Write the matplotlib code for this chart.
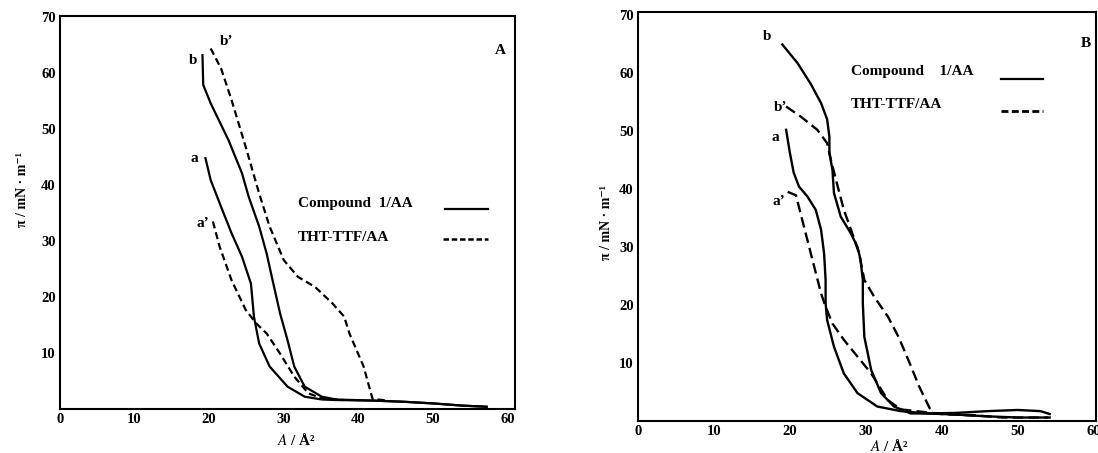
import matplotlib
matplotlib.use("Agg")
import matplotlib.pyplot as plt

plt.rcParams['font.family'] = ['Liberation Serif', 'DejaVu Serif']
plt.rcParams['mathtext.fontset'] = 'stix'

# ---- panel A : pi-A isotherms ----
a_x = [19.5, 20.2, 21.6, 23.0, 24.4, 25.6, 26.0, 26.7, 28.1, 30.5, 32.8, 35.1,
       37.0, 42.0, 46.0, 50.0, 54.0, 57.2]
a_y = [44.8, 40.9, 36.1, 31.4, 27.2, 22.4, 16.5, 11.7, 7.6, 4.0, 2.2, 1.7,
       1.6, 1.5, 1.3, 1.0, 0.6, 0.4]
b_x = [19.1, 19.2, 20.2, 22.6, 24.4, 25.3, 26.7, 27.7, 28.6, 29.5, 30.5, 31.4,
       32.8, 35.1, 37.0, 42.0, 46.0, 50.0, 54.0, 57.2]
b_y = [63.2, 57.9, 54.6, 48.0, 42.1, 37.9, 32.6, 27.8, 22.4, 17.1, 12.3, 7.6,
       4.0, 2.2, 1.7, 1.5, 1.3, 1.0, 0.6, 0.4]
a2_x = [20.5, 21.4, 23.0, 24.9, 26.3, 27.7, 29.5, 31.4, 33.3, 35.1, 38.0]
a2_y = [33.5, 29.0, 23.0, 17.7, 15.3, 13.5, 9.9, 5.8, 2.8, 1.9, 1.6]
b2_x = [20.2, 21.6, 23.0, 24.9, 26.7, 28.1, 30.0, 31.9, 34.2, 36.5, 38.1, 38.8,
        40.7, 41.9, 44.0]
b2_y = [64.4, 60.8, 55.2, 46.8, 38.5, 32.6, 26.6, 23.6, 21.8, 18.9, 16.5, 13.5,
        7.6, 1.8, 1.5]

# ---- panel B ----
Ba_x = [19.5, 20.0, 20.5, 21.2, 22.3, 23.4, 24.1, 24.5, 24.7, 24.7, 24.9, 25.8,
        27.1, 28.9, 31.5, 34.6, 38.0, 42.0, 46.0, 50.0, 54.2]
Ba_y = [50.2, 46.2, 42.8, 40.4, 38.7, 36.4, 33.0, 28.9, 24.3, 20.3, 17.4, 12.8,
        8.2, 4.8, 2.5, 1.7, 1.3, 1.1, 0.8, 0.6, 0.6]
Bb_x = [19.0, 21.0, 22.7, 24.1, 24.9, 25.2, 25.2, 25.6, 25.8, 26.7, 28.0, 28.9,
        29.3, 29.6, 29.6, 29.8, 30.7, 32.0, 33.7, 35.9, 38.0, 42.0, 46.0, 50.0,
        53.0, 54.2]
Bb_y = [64.9, 61.7, 58.2, 54.8, 52.0, 49.0, 46.2, 43.3, 39.3, 35.2, 32.4, 30.0,
        27.8, 24.3, 20.3, 14.5, 8.8, 4.8, 2.5, 1.3, 1.3, 1.4, 1.7, 1.9, 1.7, 1.2]
Ba2_x = [19.7, 20.8, 21.4, 22.3, 23.2, 24.1, 24.7, 25.6, 27.1, 28.9, 30.7, 31.8,
         32.9, 34.6, 40.0, 45.0]
Ba2_y = [39.5, 38.9, 35.8, 31.2, 26.6, 22.0, 19.7, 16.8, 14.0, 11.1, 8.2, 5.9,
         3.6, 2.0, 1.2, 0.9]
Bb2_x = [19.5, 21.4, 23.6, 24.9, 25.4, 26.3, 27.1, 28.2, 29.1, 29.8, 31.1, 32.9,
         34.3, 35.7, 37.0, 38.4, 39.1, 44.0, 48.0, 54.0]
Bb2_y = [54.2, 52.5, 50.2, 47.9, 45.0, 40.4, 36.4, 32.4, 28.9, 24.3, 21.4, 18.0,
         14.5, 10.2, 6.0, 2.2, 1.3, 1.0, 0.6, 0.6]

xticks = [0, 10, 20, 30, 40, 50, 60]
yticks = [10, 20, 30, 40, 50, 60, 70]
legend_names = ['Compound 1/AA', 'THT-TTF/AA']

W, H = 1098, 453
fig = plt.figure(figsize=(W / 100, H / 100), dpi=100)

def make_axes(l, r, t, b):
    return fig.add_axes([l / W, 1 - b / H, (r - l) / W, (b - t) / H])

tick_font = dict(family=['Liberation Serif', 'DejaVu Serif'], weight='bold', size=10.5)

def style(ax, xmax, ymax):
    ax.set_xlim(0, xmax)
    ax.set_ylim(0, ymax)
    ax.set_xticks(xticks)
    ax.set_yticks(yticks)
    ax.set_xticklabels([str(t) for t in xticks], **tick_font)
    ax.set_yticklabels([str(t) for t in yticks], **tick_font)
    ax.tick_params(length=0, pad=3)
    for s in ax.spines.values():
        s.set_linewidth(1.5)

lab = dict(weight='bold', size=11)

# ----- A -----
axA = make_axes(60, 515, 16, 409)
style(axA, 61, 70.2)
dA = (3.2, 1.8)
axA.plot(a_x, a_y, color='black', lw=1.6)
axA.plot(b_x, b_y, color='black', lw=1.6)
axA.plot(a2_x, a2_y, color='black', lw=1.6, dashes=dA)
axA.plot(b2_x, b2_y, color='black', lw=1.6, dashes=dA)
axA.text(17.9, 62.3, 'b', ha='center', va='center', **lab)
axA.text(22.3, 65.6, 'b’', ha='center', va='center', **lab)
axA.text(18.0, 44.8, 'a', ha='center', va='center', **lab)
axA.text(19.1, 33.2, 'a’', ha='center', va='center', **lab)
axA.text(59.1, 64.1, 'A', ha='center', va='center', weight='bold', size=11)
axA.text(31.9, 36.7, 'Compound  1/AA', ha='left', va='center', **lab)
axA.text(31.9, 30.7, legend_names[1], ha='left', va='center', **lab)
axA.plot([51.6, 57.4], [35.8, 35.8], color='black', lw=1.6)
axA.plot([51.4, 57.4], [30.4, 30.4], color='black', lw=1.8, dashes=(2.2, 1.1))
fig.text(23 / W, 1 - 190 / H, 'π / mN · m⁻¹', rotation=90, ha='center',
         va='center', weight='bold', size=10)
fig.text(297 / W, 1 - 440 / H, r'$\mathit{A}$ / Å²', ha='center', va='center',
         weight='bold', size=11)

# ----- B -----
axB = make_axes(638, 1096, 12, 421)
style(axB, 60.3, 70.5)
dB = (4.5, 2.2)
axB.plot(Ba_x, Ba_y, color='black', lw=1.7)
axB.plot(Bb_x, Bb_y, color='black', lw=1.7)
axB.plot(Ba2_x, Ba2_y, color='black', lw=1.7, dashes=dB)
axB.plot(Bb2_x, Bb2_y, color='black', lw=1.7, dashes=dB)
axB.text(17.0, 66.3, 'b', ha='center', va='center', **lab)
axB.text(18.8, 54.0, 'b’', ha='center', va='center', **lab)
axB.text(18.1, 48.8, 'a', ha='center', va='center', **lab)
axB.text(18.6, 37.8, 'a’', ha='center', va='center', **lab)
axB.text(58.9, 65.1, 'B', ha='center', va='center', weight='bold', size=11)
axB.text(28.0, 60.2, 'Compound    1/AA', ha='left', va='center', **lab)
axB.text(28.0, 54.5, legend_names[1], ha='left', va='center', **lab)
axB.plot([47.8, 53.3], [58.9, 58.9], color='black', lw=1.6)
axB.plot([47.8, 53.3], [53.5, 53.5], color='black', lw=2.0, dashes=(2.5, 1.2))
fig.text(607 / W, 1 - 223 / H, 'π / mN · m⁻¹', rotation=90, ha='center',
         va='center', weight='bold', size=10)
fig.text(890 / W, 1 - 446 / H, r'$\mathit{A}$ / Å²', ha='center', va='center',
         weight='bold', size=11)

fig.savefig('out.png', dpi=100)
